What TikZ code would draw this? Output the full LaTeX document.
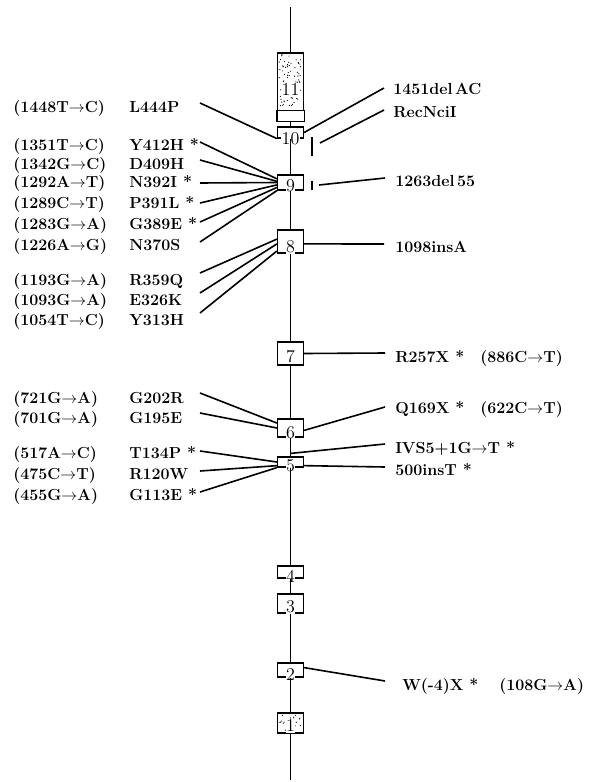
\documentclass[tikz,border=0pt]{standalone}
\usetikzlibrary{calc}

\begin{document}
\begin{tikzpicture}[x=0.75pt,y=-0.75pt,
  exon/.style={draw,line width=0.9pt,fill=white,minimum width=19.5pt,inner sep=0pt},
  num/.style={fill=white,inner sep=0.4pt,font=\fontsize{13.5}{15}\selectfont},
  mut/.style={anchor=base west,inner sep=0pt,font=\fontsize{12}{14}\selectfont\bfseries},
  conn/.style={line width=1.2pt},
  bar/.style={line width=2pt}]
  \useasboundingbox (0,0) rectangle (589,782);

  % exons
  \foreach \e/\yc/\h in {11/87/51, 10/132.5/8.25, 9/182.5/11.25, 8/241.5/17.25, 7/353.5/17.25,
      6/428/13.5, 5/462/7.5, 4/572/9, 3/603.5/14.25, 2/670/10.5, 1/723/15}
    \node[exon,minimum height=\h pt] (e\e) at (290.5,\yc) {};
  % stippled exons 11 and 1
  \pgfmathsetseed{42}
  \foreach \k in {1,...,75}
    \fill ($(e11.north west)+({2+rnd*22},{2+rnd*53})$) circle (0.6);
  \foreach \k in {1,...,22}
    \fill ($(e1.north west)+({2+rnd*22},{2+rnd*16})$) circle (0.6);
  \draw[line width=0.9pt,fill=white] ($(e11.south west)+(0,-11)$) rectangle (e11.south east);
  \foreach \e/\yn in {11/90, 10/139, 9/186, 8/247, 7/357, 6/433, 5/466, 4/576, 3/607, 2/675, 1/726}
    \node[num] (n\e) at (290.5,\yn) {\e};

  % gene axis
  \coordinate (top) at (290.5,7);
  \coordinate (bot) at (290.5,780);
  \draw[line width=0.9pt] (top) -- (e11) -- (e10) -- (e9) -- (e8) -- (e7) -- (e6) -- (e5)
    -- (e4) -- (e3) -- (e2) -- (e1) -- (bot);

  % left mutations
  \foreach \cd/\pr/\ly/\sy/\tg [count=\i] in {
      {(1448T$\to$C)}/L444P/112/103/e10.south west,
      {(1351T$\to$C)}/Y412H */150/142/e9.165,
      {(1342G$\to$C)}/D409H/169/160/e9.175,
      {(1292A$\to$T)}/N392I */187/183/e9.west,
      {(1289C$\to$T)}/P391L */208/203/e9.190,
      {(1283G$\to$A)}/G389E */229/222/e9.200,
      {(1226A$\to$G)}/N370S/250/242/e9.south west,
      {(1193G$\to$A)}/R359Q/285/273/e8.170,
      {(1093G$\to$A)}/E326K/305/293/e8.190,
      {(1054T$\to$C)}/Y313H/325/313/e8.215,
      {(721G$\to$A)}/G202R/403/393/e6.160,
      {(701G$\to$A)}/G195E/423/413/e6.west,
      {(517A$\to$C)}/T134P */458/451/e5.west,
      {(475C$\to$T)}/R120W/479/471/e5.195,
      {(455G$\to$A)}/G113E */500/492/e5.south west}{
    \node[mut] (cd\i) at (13,\ly) {\cd};
    \node[mut] (pr\i) at (129,\ly) {\pr};
    \coordinate (ls\i) at (200,\sy);
    \draw[conn] (ls\i) -- (\tg);
  }

  % right mutations
  \node[mut] (m1451) at (393,94) {1451del\,AC};
  \node[mut] (mnci) at (393,117) {RecNciI};
  \node[mut] (m1263) at (395,186) {1263del\,55};
  \node[mut] (m1098) at (395,252) {1098insA};
  \node[mut] (m257) at (395,362) {R257X *};
  \node[mut] (c886) at (480,362) {(886C$\to$T)};
  \node[mut] (m169) at (395,413) {Q169X *};
  \node[mut] (c622) at (480,413) {(622C$\to$T)};
  \node[mut] (mivs) at (395,453) {IVS5+1G$\to$T *};
  \node[mut] (m500) at (395,475) {500insT *};
  \node[mut] (mw4) at (402,690) {W(-4)X *};
  \node[mut] (c108) at (499,690) {(108G$\to$A)};

  \coordinate (a1451) at (384,88);
  \draw[conn] (e10.east) -- (a1451);
  \coordinate (anci) at (384,110);
  \coordinate (bnci) at (320,143);
  \draw[conn] (bnci) -- (anci);
  \coordinate (bar10) at (312,137);
  \draw[bar] (bar10) -- ++(0,19);
  \coordinate (a1263) at (385,178);
  \coordinate (b1263) at (319,185);
  \draw[conn] (b1263) -- (a1263);
  \coordinate (bar9) at (312,181);
  \draw[bar] (bar9) -- ++(0,9);
  \coordinate (a1098) at (384,244);
  \draw[conn] (e8.350) -- (a1098);
  \coordinate (a257) at (385,353);
  \draw[conn] (e7.east) -- (a257);
  \coordinate (a169) at (385,407);
  \draw[conn] (e6.350) -- (a169);
  \coordinate (sp5) at ($(e5.north)+(0,-3)$);
  \coordinate (aivs) at (385,444);
  \draw[conn] (sp5) -- (aivs);
  \coordinate (a500) at (385,467);
  \draw[conn] (e5.345) -- (a500);
  \coordinate (aw4) at (385,681);
  \draw[conn] (e2.10) -- (aw4);
\end{tikzpicture}
\end{document}
